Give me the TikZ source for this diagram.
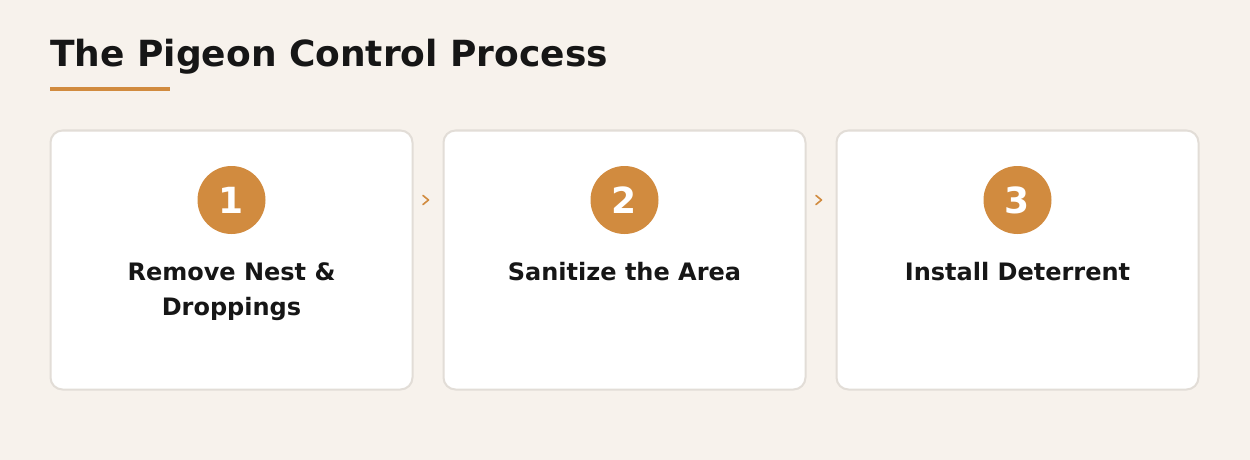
\documentclass[tikz,border=0pt]{standalone}
\usepackage{fontspec}
\setmainfont{DejaVu Sans}
\usetikzlibrary{calc}
\definecolor{bg}{HTML}{F7F2EC}
\definecolor{accent}{HTML}{D18B3F}
\definecolor{cardline}{HTML}{E2DDD7}
\definecolor{ink}{HTML}{161616}
\begin{document}
\begin{tikzpicture}[x=0.75pt,y=-0.75pt,
  card/.style={draw=cardline, line width=1.5pt, fill=white, rounded corners=9pt,
    minimum width=271.5pt, minimum height=194.25pt, inner sep=0pt},
  badge/.style={circle, fill=accent, minimum size=51pt, inner sep=0pt,
    text=white, font=\fontsize{27}{32}\selectfont\bfseries},
  label/.style={anchor=north, inner sep=0pt, align=center, text=ink,
    font=\fontsize{18}{26.25}\selectfont\bfseries},
  chev/.style={draw=accent, line width=1.2pt, line cap=round, line join=round}
]
\fill[bg] (0,0) rectangle (1250,460);
\useasboundingbox (0,0) rectangle (1250,460);
\node[anchor=base west, inner sep=0pt, text=ink, font=\fontsize{27}{32}\selectfont\bfseries] (title) at (50,67) {The Pigeon Control Process};
\fill[accent] (50,87) rectangle (170,91);

\node[card] (c1) at (231.5,260) {};
\node[card] (c2) at (624.5,260) {};
\node[card] (c3) at (1017.5,260) {};

\node[badge] (n1) at (231.5,200) {1};
\node[badge] (n2) at (624.5,200) {2};
\node[badge] (n3) at (1017.5,200) {3};

\node[label] (l1) at (231.5,262) {Remove Nest \&\\Droppings};
\node[label] (l2) at (624.5,262) {Sanitize the Area};
\node[label] (l3) at (1017.5,262) {Install Deterrent};

\coordinate (k1) at ($(c1.east)!0.5!(c2.west)$);
\coordinate (k2) at ($(c2.east)!0.5!(c3.west)$);
\draw[chev] ($(k1|-n1)+(-5,-4.5)$) -- ++(5.5,4.5) -- ++(-5.5,4.5);
\draw[chev] ($(k2|-n2)+(-5,-4.5)$) -- ++(5.5,4.5) -- ++(-5.5,4.5);
\end{tikzpicture}
\end{document}
